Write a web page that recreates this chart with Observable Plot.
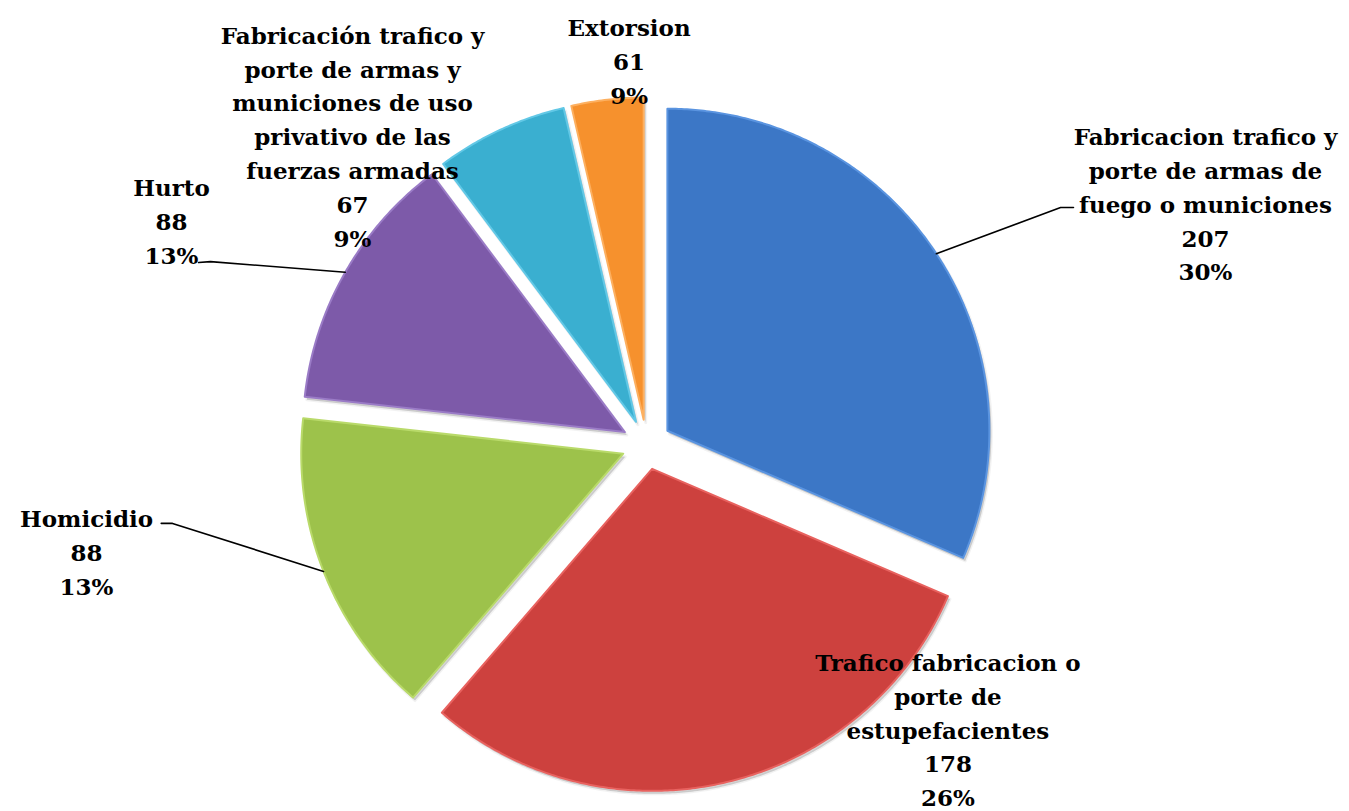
<!DOCTYPE html>
<html>
<head>
<meta charset="utf-8">
<script src="https://cdn.jsdelivr.net/npm/d3@7"></script>
<script src="https://cdn.jsdelivr.net/npm/@observablehq/plot@0.6"></script>
<style>
  html, body { margin: 0; padding: 0; background: #ffffff; }
  #chart svg { display: block; }
</style>
</head>
<body>
<div id="chart"></div>
<script>
// ---------------- data ----------------
const categories = [
  "Fabricacion trafico y\nporte de armas de\nfuego o municiones",
  "Trafico fabricacion o\nporte de\nestupefacientes",
  "Homicidio",
  "Hurto",
  "Fabricación trafico y\nporte de armas y\nmuniciones de uso\nprivativo de las\nfuerzas armadas",
  "Extorsion"
];
const counts = [207, 178, 88, 88, 67, 61];
const percentLabels = ["30%", "26%", "13%", "13%", "9%", "9%"];
// angular share of each slice as drawn (percent of the full circle)
const sliceShares = [31.4, 29.8, 15.4, 13.0, 6.6, 3.6];

// ---------------- styles / layout ----------------
const sliceColors = ["#3c77c6", "#cd413e", "#9dc24b", "#7d5aa9", "#3aafd0", "#f6912d"];
const edgeColors  = ["#5a94e0", "#e8625f", "#b9da6a", "#9a7bc6", "#62c8e6", "#fdb060"];

const W = 1349, H = 811;
const R = 322, CX = 646, CY = 444;     // pie radius and centre in pixels
const EXPLODE = 25 / R;                 // explosion distance, radius units
// label block centres (radius units, relative to pie centre, y up)
const labelAt = [[1.736, 0.753], [0.936, -0.880], [-1.739, -0.329], [-1.475, 0.699], [-0.913, 0.963], [-0.054, 1.196]];
// leader line knees/ends (radius units) – null = no leader
const leaderKnee = [[1.286, 0.736], null, [-1.472, -0.245], [-1.354, 0.568], null, null];
const leaderEnd  = [[1.326, 0.736], null, [-1.507, -0.245], [-1.391, 0.565], null, null];

// ---------------- geometry derived from data ----------------
const total = d3.sum(sliceShares);
let acc = 0;
const slices = sliceShares.map((s, i) => {
  const a0 = acc / total * 2 * Math.PI; acc += s;
  const a1 = acc / total * 2 * Math.PI;
  const m = (a0 + a1) / 2;
  return {i, a0, a1, m, ox: EXPLODE * Math.sin(m), oy: EXPLODE * Math.cos(m)};
});
const slicePoints = slices.map(s => {
  const pts = [{i: s.i, x: s.ox, y: s.oy}];
  const n = Math.max(4, Math.ceil((s.a1 - s.a0) / (Math.PI / 360)));
  for (let k = 0; k <= n; k++) {
    const a = s.a0 + (s.a1 - s.a0) * k / n;
    pts.push({i: s.i, x: s.ox + Math.sin(a), y: s.oy + Math.cos(a)});
  }
  return pts;
});
const leaders = slices.filter(s => leaderKnee[s.i]).map(s => [
  {x: s.ox + Math.sin(s.m), y: s.oy + Math.cos(s.m)},
  {x: leaderKnee[s.i][0], y: leaderKnee[s.i][1]},
  {x: leaderEnd[s.i][0], y: leaderEnd[s.i][1]}
]);
const labels = slices.map(s => ({
  x: labelAt[s.i][0], y: labelAt[s.i][1],
  text: categories[s.i] + "\n" + counts[s.i] + "\n" + percentLabels[s.i]
}));

const plot = Plot.plot({
  width: W, height: H,
  margin: 0,
  x: {domain: [-CX / R, (W - CX) / R], range: [0, W], axis: null},
  y: {domain: [-(H - CY) / R, CY / R], range: [H, 0], axis: null},
  marks: [
    // soft shadow copies
    ...slicePoints.map(pts => Plot.line(pts, {
      x: "x", y: "y", curve: "linear-closed", dx: 2, dy: 3,
      fill: "#000000", fillOpacity: 0.16, stroke: "#000000", strokeOpacity: 0.05, strokeWidth: 3
    })),
    // slices with a light bevel edge
    ...slicePoints.map((pts, i) => Plot.line(pts, {
      x: "x", y: "y", curve: "linear-closed",
      fill: sliceColors[i], stroke: edgeColors[i], strokeWidth: 2, strokeLinejoin: "round"
    })),
    ...leaders.map(pts => Plot.line(pts, {x: "x", y: "y", stroke: "#000", strokeWidth: 1.6})),
    Plot.text(labels, {
      x: "x", y: "y", text: "text",
      fontFamily: "DejaVu Serif", fontWeight: "bold", fontSize: 23,
      lineHeight: 1.47, textAnchor: "middle", lineAnchor: "middle", fill: "#000"
    })
  ]
});

document.getElementById("chart").appendChild(plot);
</script>
</body>
</html>
